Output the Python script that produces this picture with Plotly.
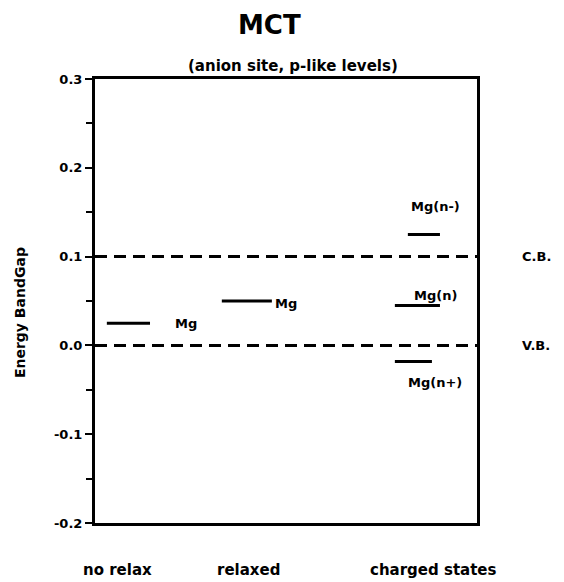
import plotly.graph_objects as go

# ---- data ----
level_names = ["Mg", "Mg", "Mg(n-)", "Mg(n)", "Mg(n+)"]
level_values = [0.025, 0.050, 0.125, 0.045, -0.018]
level_x_start = [0.031, 0.332, 0.819, 0.785, 0.785]
level_x_end = [0.144, 0.463, 0.903, 0.903, 0.882]

band_names = ["C.B.", "V.B."]
band_values = [0.1, 0.0]

categories = ["no relax", "relaxed", "charged states"]
category_x = [0.058, 0.403, 0.885]

y_ticks = [0.3, 0.2, 0.1, 0.0, -0.1, -0.2]
y_tick_labels = ["0.3", "0.2", "0.1", "0.0", "-0.1", "-0.2"]

FONT = "DejaVu Sans"

# label placement (style only)
label_x = [0.204, 0.466, 0.891, 0.891, 0.891]
label_anchor = ["left", "left", "center", "center", "center"]
label_yshift = [0, -2, 28, 10, -21]

fig = go.Figure()

# band edges (dashed)
for v in band_values:
    fig.add_trace(go.Scatter(x=[0, 1], y=[v, v], mode="lines",
                             line=dict(color="black", width=3, dash="12px,7px"),
                             showlegend=False, hoverinfo="skip"))

# defect levels
for v, x0, x1 in zip(level_values, level_x_start, level_x_end):
    fig.add_trace(go.Scatter(x=[x0, x1], y=[v, v], mode="lines",
                             line=dict(color="black", width=3),
                             showlegend=False, hoverinfo="skip"))

annotations = []
for name, v, lx, anc, ys in zip(level_names, level_values, label_x, label_anchor, label_yshift):
    annotations.append(dict(x=lx, y=v, xref="x", yref="y", text=name, showarrow=False,
                            xanchor=anc, yanchor="middle", yshift=ys,
                            font=dict(family=FONT, size=13, color="black", weight="bold")))

for name, v in zip(band_names, band_values):
    annotations.append(dict(x=1.155, y=v, xref="paper", yref="y", text=name, showarrow=False,
                            xanchor="center", yanchor="middle",
                            font=dict(family=FONT, size=13, color="black", weight="bold")))

for name, cx in zip(categories, category_x):
    annotations.append(dict(x=cx, y=-0.106, xref="x", yref="paper", text=name, showarrow=False,
                            xanchor="center", yanchor="middle",
                            font=dict(family=FONT, size=15, color="black", weight="bold")))

annotations.append(dict(x=0.458, y=1.1216, xref="paper", yref="paper", text="MCT", showarrow=False,
                        xanchor="center", yanchor="middle",
                        font=dict(family=FONT, size=26, color="black", weight="bold")))
annotations.append(dict(x=0.518, y=1.029, xref="paper", yref="paper",
                        text="(anion site, p-like levels)", showarrow=False,
                        xanchor="center", yanchor="middle",
                        font=dict(family=FONT, size=15, color="black", weight="bold")))
annotations.append(dict(x=-0.196, y=0.473, xref="paper", yref="paper", text="Energy BandGap",
                        showarrow=False, textangle=-90, xanchor="center", yanchor="middle",
                        font=dict(family=FONT, size=14, color="black", weight="bold")))

# page body has an 8px margin, so the figure is 8px smaller than the window
fig.update_layout(
    width=556, height=574,
    margin=dict(l=87, r=87, t=71, b=59),
    plot_bgcolor="white", paper_bgcolor="white",
    annotations=annotations,
    showlegend=False,
)
fig.update_xaxes(range=[0, 1], showgrid=False, zeroline=False, showticklabels=False,
                 ticks="", showline=True, linecolor="black", linewidth=3, mirror=True)
fig.update_yaxes(range=[-0.2, 0.3], showgrid=False, zeroline=False,
                 tickvals=y_ticks, ticktext=y_tick_labels,
                 ticks="outside", ticklen=7, tickwidth=2, tickcolor="black",
                 minor=dict(dtick=0.05, tick0=0, ticks="outside", ticklen=6, tickwidth=2, tickcolor="black"),
                 tickfont=dict(family=FONT, size=13, color="black", weight="bold"),
                 showline=True, linecolor="black", linewidth=3, mirror=True)

fig.write_html("out.html")
